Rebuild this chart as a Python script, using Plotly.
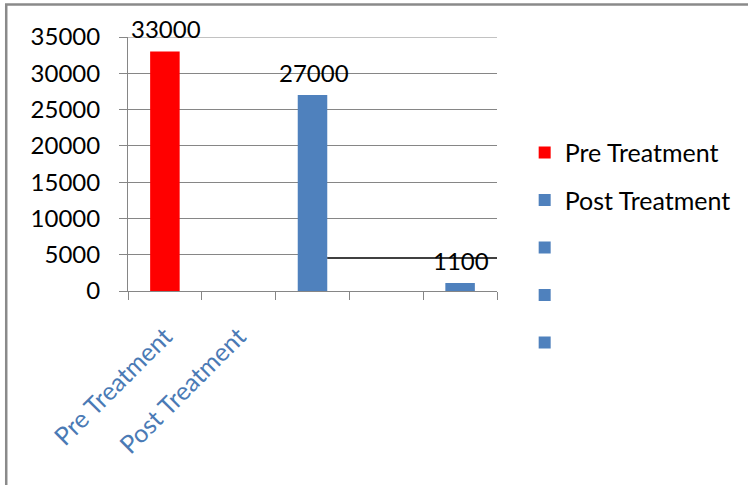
import plotly.graph_objects as go

# Data
categories = ["Pre Treatment", "Post Treatment", "\u200b", "\u200b\u200b", "\u200b\u200b\u200b"]
pre_x = ["Pre Treatment"]
pre_values = [33000]
post_x = ["\u200b", "\u200b\u200b\u200b"]
post_values = [27000, 1100]
blank_series = [" ", "  ", "   "]
y_ticks = [0, 5000, 10000, 15000, 20000, 25000, 30000, 35000]

RED = "#ff0000"
BLUE = "#4f81bd"
GRID = "#868686"
FONT = "Lato"
FS = 25
NUM_FS = 24

fig = go.Figure()
fig.add_trace(go.Bar(x=pre_x, y=pre_values, name="Pre Treatment",
                     marker=dict(color=RED, line=dict(width=0)), width=0.4,
                     legendgroup="a"))
fig.add_trace(go.Bar(x=post_x, y=post_values, name="Post Treatment",
                     marker=dict(color=BLUE, line=dict(width=0)), width=0.4,
                     legendgroup="b"))
for i, nm in enumerate(blank_series):
    fig.add_trace(go.Bar(x=[categories[0]], y=[0], name=nm,
                         marker=dict(color=BLUE, line=dict(width=0)), width=0.4,
                         legendgroup="c%d" % i, showlegend=True, hoverinfo="skip"))

# value labels
for xs, ys in ((pre_x, pre_values), (post_x, post_values)):
    for xv, yv in zip(xs, ys):
        fig.add_annotation(x=xv, y=yv, text=str(yv), showarrow=False,
                           yanchor="middle", yshift=23, xshift=1,
                           font=dict(family=FONT, size=NUM_FS, color="black"))

# hide gridline segment, then stray black horizontal line
fig.add_shape(type="line", xref="x", yref="y", x0=2.2, x1=4.5, y0=5000, y1=5000,
              line=dict(color="white", width=2), layer="above")
fig.add_shape(type="line", xref="x", yref="y", x0=2.2, x1=4.5, y0=4550, y1=4550,
              line=dict(color="black", width=1.5))
# top gridline
fig.add_shape(type="line", xref="paper", yref="y", x0=0, x1=1, y0=35000, y1=35000,
              line=dict(color=GRID, width=1), layer="below")
# outer border
fig.add_shape(type="rect", xref="paper", yref="paper", x0=-0.330, x1=2.0,
              y0=-2.0, y1=1.128, line=dict(color="#8a8a8a", width=2.5),
              layer="below")

fig.update_layout(
    width=748, height=485,
    margin=dict(l=128, r=251, t=37, b=194),
    paper_bgcolor="white", plot_bgcolor="white",
    barmode="overlay",
    font=dict(family=FONT, size=FS, color="black"),
    showlegend=True,
    legend=dict(x=1.075, y=0.635, xanchor="left", yanchor="top",
                font=dict(family=FONT, size=FS, color="black"),
                tracegroupgap=12, bgcolor="rgba(0,0,0,0)"),
    xaxis=dict(type="category", categoryorder="array", categoryarray=categories,
               range=[-0.5, 4.5], tickson="boundaries", ticks="outside",
               ticklen=8, tickcolor=GRID, showline=True, linecolor=GRID,
               linewidth=1, showgrid=False, tickangle=-45,
               tickfont=dict(family=FONT, size=FS, color="#4a7ab5"),
               ticklabelstandoff=20),
    yaxis=dict(range=[0, 35000], tickvals=y_ticks, tickformat="d",
               ticks="outside", ticklen=8,
               tickcolor=GRID, showline=True, linecolor=GRID, linewidth=1,
               showgrid=True, gridcolor=GRID, gridwidth=1, zeroline=False,
               tickfont=dict(family=FONT, size=NUM_FS, color="black"),
               ticklabelstandoff=14),
)

fig.write_html("out.html")
